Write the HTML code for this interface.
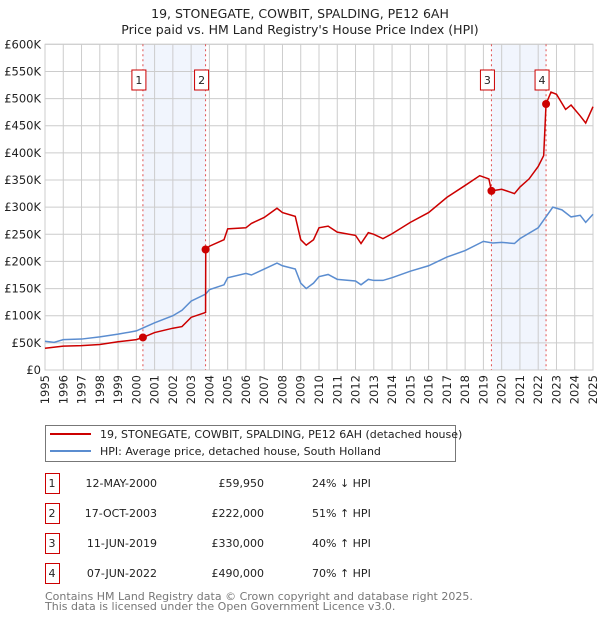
<!DOCTYPE html>
<html><head><meta charset="utf-8"><style>
body{margin:0;background:#fff;font-family:"DejaVu Sans","Liberation Sans",sans-serif;}
svg text{font-family:"DejaVu Sans","Liberation Sans",sans-serif;}
</style></head><body>
<svg id="chart" width="600" height="620" xmlns="http://www.w3.org/2000/svg">
<text x="300" y="18" text-anchor="middle" font-size="12.5" fill="#222">19, STONEGATE, COWBIT, SPALDING, PE12 6AH</text>
<text x="300" y="34" text-anchor="middle" font-size="12.5" fill="#222">Price paid vs. HM Land Registry's House Price Index (HPI)</text>
<g id="plot"></g>
<g>
<rect x="45.5" y="425.5" width="410" height="36" fill="#fff" stroke="#777"/>
<line x1="50" y1="434" x2="91" y2="434" stroke="#cc0000" stroke-width="2"/>
<text x="100" y="438" font-size="11" fill="#222">19, STONEGATE, COWBIT, SPALDING, PE12 6AH (detached house)</text>
<line x1="50" y1="451" x2="91" y2="451" stroke="#5b8dd0" stroke-width="2"/>
<text x="100" y="455" font-size="11" fill="#222">HPI: Average price, detached house, South Holland</text>
</g>
<g id="table" font-size="11" fill="#222"></g>
<text x="45" y="600" font-size="11" fill="#777">Contains HM Land Registry data © Crown copyright and database right 2025.</text>
<text x="45" y="610" font-size="11" fill="#777">This data is licensed under the Open Government Licence v3.0.</text>
</svg>
<script>
const hpiYears=[1995,1995.5,1996,1997,1998,1999,2000,2000.4,2001,2002,2002.5,2003,2003.8,2004,2004.8,2005,2006,2006.3,2007,2007.7,2008,2008.7,2009,2009.3,2009.7,2010,2010.5,2011,2012,2012.3,2012.7,2013,2013.5,2014,2015,2016,2017,2018,2019,2019.5,2020,2020.7,2021,2022,2022.8,2023.3,2023.8,2024.3,2024.6,2025];
const hpiValues=[53,51,56,57,61,66,72,78,87,100,110,127,140,148,157,170,178,175,186,197,192,186,160,150,160,172,176,167,164,157,167,165,165,170,182,192,208,220,237,234,235,233,242,262,300,295,282,285,272,287];
const propYears=[1995,1996,1997,1998,1999,2000,2000.36,2001,2002,2002.5,2003,2003.79,2003.8,2004,2004.8,2005,2006,2006.3,2007,2007.7,2008,2008.7,2009,2009.3,2009.7,2010,2010.5,2011,2012,2012.3,2012.7,2013,2013.5,2014,2015,2016,2017,2018,2018.8,2019.3,2019.44,2020,2020.7,2021,2021.5,2022,2022.3,2022.43,2022.7,2023,2023.5,2023.8,2024.3,2024.6,2025];
const propValues=[40,44,45,47,52,56,59.95,69,77,80,97,106,222,228,240,260,262,270,281,298,290,283,240,230,240,262,265,254,248,233,253,250,242,251,272,290,318,340,358,352,330,333,325,337,352,375,395,490,512,508,480,488,468,455,485];
const saleLabels=["1","2","3","4"];
const saleYears=[2000.36,2003.79,2019.44,2022.43];
const salePrices=[59.95,222,330,490];
const saleDates=["12-MAY-2000","17-OCT-2003","11-JUN-2019","07-JUN-2022"];
const salePriceText=["£59,950","£222,000","£330,000","£490,000"];
const saleHpiText=["24% ↓ HPI","51% ↑ HPI","40% ↑ HPI","70% ↑ HPI"];
const yTicks=[0,50,100,150,200,250,300,350,400,450,500,550,600];
const yTickLabels=["£0","£50K","£100K","£150K","£200K","£250K","£300K","£350K","£400K","£450K","£500K","£550K","£600K"];
const xTicks=[1995,1996,1997,1998,1999,2000,2001,2002,2003,2004,2005,2006,2007,2008,2009,2010,2011,2012,2013,2014,2015,2016,2017,2018,2019,2020,2021,2022,2023,2024,2025];

const X0=45,X1=593,Y0=370,Y1=44.3;
const xs=y=>X0+(y-1995)/30*(X1-X0);
const ys=v=>Y0-v/600*(Y0-Y1);
const NS="http://www.w3.org/2000/svg";
const plot=document.getElementById('plot');
function mk(tag,attrs,parent){const e=document.createElementNS(NS,tag);for(const k in attrs)e.setAttribute(k,attrs[k]);(parent||plot).appendChild(e);return e;}

for(let i=0;i<4;i+=2){
 const r=mk('rect',{x:xs(saleYears[i]),y:Y1,width:xs(saleYears[i+1])-xs(saleYears[i]),height:Y0-Y1,fill:'#eef3fc',opacity:0.8});
 
 
}
yTicks.forEach((t,i)=>{
 const l=mk('line',{x1:X0,x2:X1,y1:ys(t),y2:ys(t),stroke:'#ccc','stroke-width':1});
 
 
 const tx=mk('text',{x:X0-4,y:ys(t)+4,'text-anchor':'end','font-size':11.5,fill:'#222'});
 tx.textContent=yTickLabels[i];
 
 
});
xTicks.forEach(t=>{
 const l=mk('line',{x1:xs(t),x2:xs(t),y1:Y1,y2:Y0,stroke:'#ccc','stroke-width':1});
 
 
 const px=xs(t)+4, py=Y0+5;
 const tx=mk('text',{x:px,y:py,'text-anchor':'end','font-size':11.5,fill:'#222',transform:'rotate(-90 '+px+' '+py+')'});
 tx.textContent=t;
 
 
});
mk('rect',{x:X0,y:Y1,width:X1-X0,height:Y0-Y1,fill:'none',stroke:'#ccc'});
saleYears.forEach((y,i)=>{
 const l=mk('line',{x1:xs(y),x2:xs(y),y1:Y1,y2:Y0,stroke:'#e05050','stroke-width':1,'stroke-dasharray':'2,3'});
 
 
 const b=mk('rect',{x:xs(y)-11,y:70,width:14,height:20,fill:'#fff',stroke:'#cc0000'});
 
 
 const t=mk('text',{x:xs(y)-4,y:84,'text-anchor':'middle','font-size':11,fill:'#222'});
 t.textContent=saleLabels[i];
 
 
});
const hp=mk('polyline',{points:hpiYears.map((y,i)=>xs(y)+','+ys(hpiValues[i])).join(' '),fill:'none',stroke:'#5b8dd0','stroke-width':1.5});


const pp=mk('polyline',{points:propYears.map((y,i)=>xs(y)+','+ys(propValues[i])).join(' '),fill:'none',stroke:'#cc0000','stroke-width':1.5});


saleYears.forEach((y,i)=>{
 const c=mk('circle',{cx:xs(y),cy:ys(salePrices[i]),r:4,fill:'#cc0000'});
 
 
});
const tb=document.getElementById('table');
saleLabels.forEach((s,i)=>{
 const y=483+i*30;
 const b=mk('rect',{x:45.5,y:y-9.5,width:14,height:20,fill:'#fff',stroke:'#cc0000'},tb);
 
 
 const vals=[[52,s,'middle'],[157,saleDates[i],'end'],[264,salePriceText[i],'end'],[312,saleHpiText[i],'start']];
 vals.forEach(v=>{
  const t=mk('text',{x:v[0],y:y+4,'text-anchor':v[2]},tb);
  t.textContent=v[1];
  
  
 });
});
</script>
</body></html>
